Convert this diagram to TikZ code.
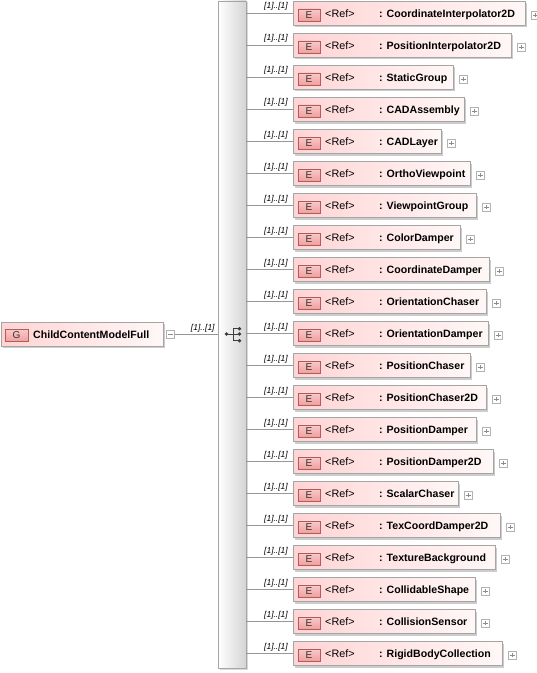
\documentclass[tikz,border=0pt]{standalone}
\usepackage{fontspec}
\setmainfont{Liberation Sans}
\usetikzlibrary{shadows}
\definecolor{boxl}{RGB}{255,212,212}
\definecolor{boxr}{RGB}{255,247,247}
\definecolor{boxdraw}{RGB}{165,165,165}
\definecolor{badgetop}{RGB}{250,200,200}
\definecolor{badgebot}{RGB}{238,160,160}
\definecolor{badgedraw}{RGB}{180,90,90}
\definecolor{wirec}{RGB}{150,150,150}
\definecolor{seqr}{RGB}{212,212,212}
\definecolor{icon}{RGB}{60,60,60}
\tikzset{
  ebox/.style={draw=boxdraw, left color=boxl, right color=boxr, minimum height=24bp,
    inner xsep=0pt, inner ysep=0pt, text height=8bp, text depth=0pt, anchor=west,
    font=\fontsize{10.6bp}{13bp}\selectfont\bfseries,
    drop shadow={shadow xshift=2bp, shadow yshift=-2bp, fill=black!20, opacity=1}},
  badge/.style={draw=badgedraw, top color=badgetop, bottom color=badgebot,
    minimum width=22bp, minimum height=12bp, inner sep=0pt,
    font=\fontsize{10bp}{12bp}\selectfont, text=black!80},
  reftext/.style={font=\fontsize{10.8bp}{13bp}\selectfont, anchor=west, inner sep=0pt,
    text height=8bp, text depth=0pt},
  mult/.style={font=\fontsize{8.5bp}{10bp}\selectfont\itshape, inner sep=0pt, anchor=base east},
  wire/.style={draw=wirec, line width=0.8bp},
  pmbox/.style={draw=black!30, fill=white, minimum size=8bp, inner sep=0pt},
  pmsign/.style={draw=black!45, line width=0.6bp},
  seqbar/.style={draw=black!35, left color=white, right color=seqr,
    minimum width=28bp, minimum height=667bp, inner sep=0pt,
    drop shadow={shadow xshift=1.5bp, shadow yshift=-1.5bp, fill=black!15, opacity=1}},
}
\begin{document}
\begin{tikzpicture}[x=1bp, y=-1bp]
\useasboundingbox (0,0) rectangle (537,673);
\fill[white] (0,0) rectangle (537,673);

% sequence bar
\node[seqbar] (seq) at (232,334.5) {};
% sequence icon
\coordinate (ic) at (232,334);
\fill[icon] ([shift={(-5.5,0)}]ic) circle (1.9bp);
\draw[icon, line width=0.8bp] ([shift={(-5.5,0)}]ic) -- ([shift={(1,0)}]ic);
\draw[icon, line width=0.8bp] ([shift={(1,-5.3)}]ic) -- ([shift={(1,6.7)}]ic);
\draw[icon, line width=0.8bp] ([shift={(1,-5.3)}]ic) -- ([shift={(7.5,-5.3)}]ic);
\draw[icon, line width=0.8bp] ([shift={(1,0)}]ic) -- ([shift={(7.5,0)}]ic);
\draw[icon, line width=0.8bp] ([shift={(1,6.7)}]ic) -- ([shift={(7.5,6.7)}]ic);
\fill[icon] ([shift={(7.5,-5.3)}]ic) circle (1.9bp);
\fill[icon] ([shift={(7.5,0)}]ic) circle (1.9bp);
\fill[icon] ([shift={(7.5,6.7)}]ic) circle (1.9bp);

% group node
\node[ebox] (g) at (1,334) {\makebox[162bp][l]{\hspace*{32bp}ChildContentModelFull}};
\node[badge, minimum width=23bp] (gb) at ([shift={(15.5,1.5)}]g.west) {G};
\node[pmbox] (gm) at ([shift={(7,0.5)}]g.east) {};
\draw[pmsign] ([shift={(2,0)}]gm.west) -- ([shift={(-2,0)}]gm.east);
\draw[wire] (gm.east) -- (seq.west |- gm.east);
\node[mult] (gl) at ([shift={(-3,-4.5)}]seq.west |- gm.east) {[1]..[1]};

% element rows
\foreach \n/\w [count=\i from 0] in {CoordinateInterpolator2D/232, PositionInterpolator2D/218,
  StaticGroup/160, CADAssembly/171, CADLayer/148, OrthoViewpoint/177, ViewpointGroup/183,
  ColorDamper/167, CoordinateDamper/196, OrientationChaser/193, OrientationDamper/195,
  PositionChaser/177, PositionChaser2D/193, PositionDamper/183, PositionDamper2D/200,
  ScalarChaser/165, TexCoordDamper2D/207, TextureBackground/202, CollidableShape/182,
  CollisionSensor/182, RigidBodyCollection/209} {
  \pgfmathsetmacro\yy{13.5+32*\i}
  \node[ebox] (e\i) at (293,\yy) {\makebox[\w bp][l]{\hspace*{86bp}: \n}};
  \node[badge] (b\i) at ([shift={(16,1.5)}]e\i.west) {E};
  \node[reftext] (r\i) at ([shift={(32,0)}]e\i.west) {<Ref>};
  \node[pmbox] (p\i) at ([shift={(10,1.5)}]e\i.east) {};
  \draw[pmsign] ([shift={(2,0)}]p\i.west) -- ([shift={(-2,0)}]p\i.east);
  \draw[pmsign] ([shift={(0,2)}]p\i.north) -- ([shift={(0,-2)}]p\i.south);
  \draw[wire] (seq.east |- e\i.west) -- (e\i.west);
  \node[mult] (m\i) at ([shift={(-5,-4.5)}]e\i.west) {[1]..[1]};
}
\end{tikzpicture}
\end{document}
